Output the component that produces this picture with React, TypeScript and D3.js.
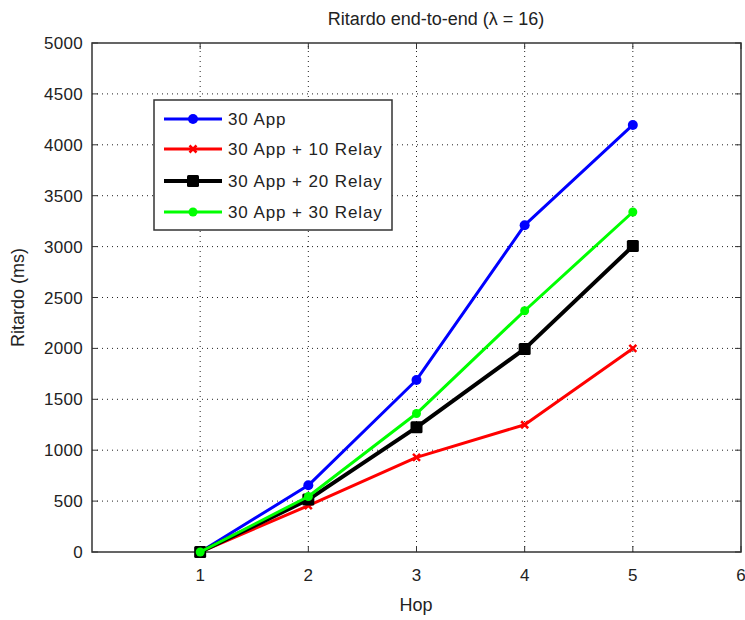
import React from "react";
import * as d3 from "d3";

const hops = [1, 2, 3, 4, 5];
const app30 = [0, 655, 1690, 3210, 4195];
const app30relay10 = [0, 455, 930, 1250, 2000];
const app30relay20 = [0, 515, 1225, 1995, 3005];
const app30relay30 = [0, 545, 1360, 2370, 3340];
const seriesNames = ["30 App", "30 App + 10 Relay", "30 App + 20 Relay", "30 App + 30 Relay"];
const xTicks = [1, 2, 3, 4, 5, 6];
const yTicks = [0, 500, 1000, 1500, 2000, 2500, 3000, 3500, 4000, 4500, 5000];

const W = 745, H = 620;
const L = 92, R = 741, T = 43, B = 552;
const FONT = "'Liberation Sans', Arial, sans-serif";

export default function App() {
  const x = d3.scaleLinear().domain([0, 6]).range([L, R]);
  const y = d3.scaleLinear().domain([0, 5000]).range([B, T]);
  const line = d3.line<number>().x((_, i) => x(hops[i])).y((d) => y(d));

  const series = [
    { name: seriesNames[0], data: app30, color: "#0000ff", width: 3, marker: "circle", size: 5 },
    { name: seriesNames[1], data: app30relay10, color: "#ff0000", width: 3, marker: "x", size: 3.5 },
    { name: seriesNames[2], data: app30relay20, color: "#000000", width: 4, marker: "square", size: 6 },
    { name: seriesNames[3], data: app30relay30, color: "#00ff00", width: 3, marker: "circle", size: 4.5 },
  ];

  const marker = (s: any, cx: number, cy: number, key: string) => {
    if (s.marker === "circle")
      return <circle key={key} cx={cx} cy={cy} r={s.size} fill={s.color} />;
    if (s.marker === "square")
      return (
        <rect key={key} x={cx - s.size} y={cy - s.size} width={s.size * 2} height={s.size * 2} rx={1.5} fill={s.color} />
      );
    const k = s.size;
    return (
      <path key={key} d={`M${cx - k},${cy - k}L${cx + k},${cy + k}M${cx - k},${cy + k}L${cx + k},${cy - k}`} stroke={s.color} strokeWidth={2.5} />
    );
  };

  const axisColor = "#333";
  const legX = 154, legY = 100, legW = 238, legH = 130;
  const legRows = [119, 149, 181, 212];

  return (
    <svg width={W} height={H} style={{ position: "absolute", left: 0, top: 0, background: "#fff" }} fontFamily={FONT}>
      <rect x={0} y={0} width={W} height={H} fill="#fff" />
      {/* grid */}
      {xTicks.slice(0, -1).map((t) => (
        <line key={"gx" + t} x1={x(t)} x2={x(t)} y1={B} y2={T} stroke="#222" strokeWidth={1} strokeDasharray="1,4" />
      ))}
      {yTicks.slice(1, -1).map((t) => (
        <line key={"gy" + t} x1={L} x2={R} y1={y(t)} y2={y(t)} stroke="#222" strokeWidth={1} strokeDasharray="1,4" />
      ))}
      {/* ticks */}
      {xTicks.map((t) => (
        <g key={"tx" + t}>
          <line x1={x(t)} x2={x(t)} y1={B} y2={B - 6} stroke={axisColor} />
          <line x1={x(t)} x2={x(t)} y1={T} y2={T + 6} stroke={axisColor} />
          <text x={x(t)} y={B + 29} textAnchor="middle" fontSize={17} fill="#222">{t}</text>
        </g>
      ))}
      {yTicks.map((t) => (
        <g key={"ty" + t}>
          <line x1={L} x2={L + 6} y1={y(t)} y2={y(t)} stroke={axisColor} />
          <line x1={R} x2={R - 6} y1={y(t)} y2={y(t)} stroke={axisColor} />
          <text x={L - 9} y={y(t) + 6} textAnchor="end" fontSize={17} fill="#222" letterSpacing={0.3}>{t}</text>
        </g>
      ))}
      <rect x={L} y={T} width={R - L} height={B - T} fill="none" stroke={axisColor} strokeWidth={1.5} />
      {/* series */}
      {series.map((s, si) => (
        <g key={"s" + si}>
          <path d={line(s.data) || ""} fill="none" stroke={s.color} strokeWidth={s.width} strokeLinejoin="round" />
          {s.data.map((d, i) => marker(s, x(hops[i]), y(d), `m${si}-${i}`))}
        </g>
      ))}
      {/* legend */}
      <rect x={legX} y={legY} width={legW} height={legH} fill="#fff" stroke={axisColor} strokeWidth={1.5} />
      {series.map((s, i) => (
        <g key={"l" + i}>
          <line x1={164} x2={222} y1={legRows[i]} y2={legRows[i]} stroke={s.color} strokeWidth={s.width} />
          {marker(s, 193, legRows[i], "lm" + i)}
          <text x={228} y={legRows[i] + 6} fontSize={17} fill="#222" letterSpacing={0.9}>{s.name}</text>
        </g>
      ))}
      {/* labels */}
      <text x={436} y={25} textAnchor="middle" fontSize={18} fill="#222">Ritardo end-to-end (λ = 16)</text>
      <text x={416} y={611} textAnchor="middle" fontSize={18} fill="#222">Hop</text>
      <text transform={`translate(24,${(T + B) / 2}) rotate(-90)`} textAnchor="middle" fontSize={18} fill="#222">Ritardo (ms)</text>
    </svg>
  );
}
